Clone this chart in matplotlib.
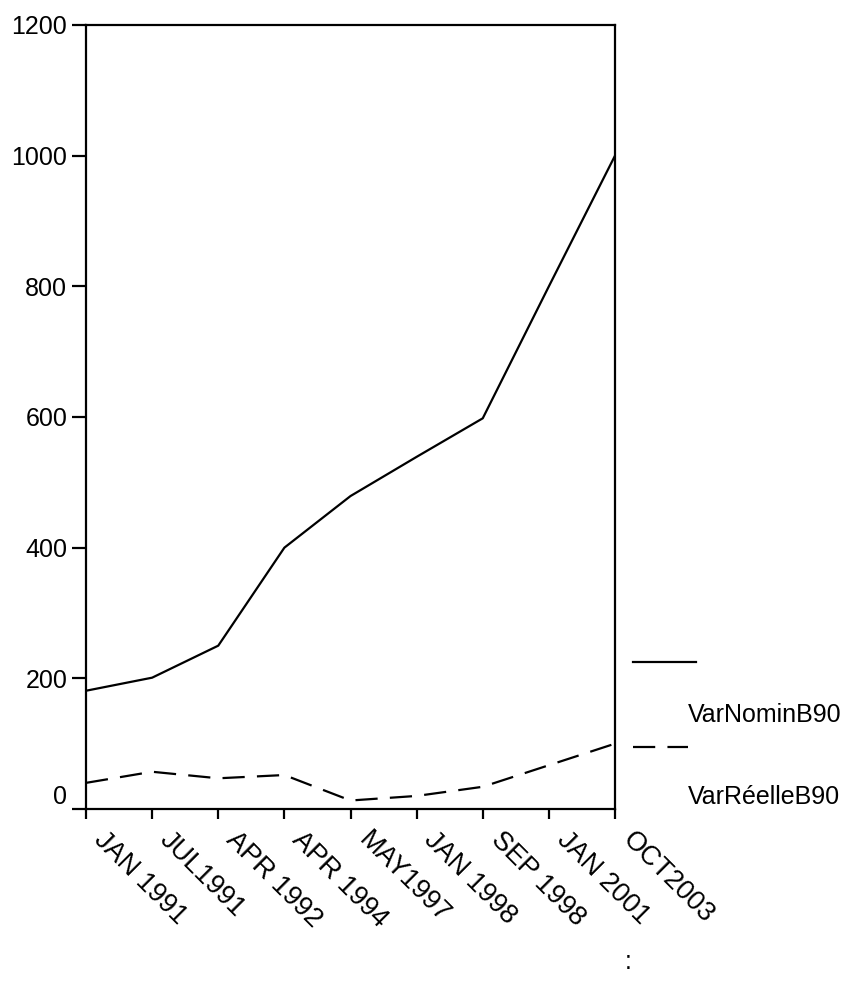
import matplotlib
matplotlib.use("Agg")
import matplotlib.pyplot as plt
from matplotlib.lines import Line2D
from matplotlib.transforms import ScaledTranslation

plt.rcParams['font.family'] = ['Liberation Sans', 'DejaVu Sans']

# Dates of observation and the two series (base 1990)
periods = ["JAN 1991", "JUL1991", "APR 1992", "APR 1994", "MAY1997",
           "JAN 1998", "SEP 1998", "JAN 2001", "OCT2003"]
var_nomin = [181, 201, 250, 400, 479, 539, 598, 800, 1000]
var_reelle = [40, 57, 47, 52, 13, 20, 34, 67, 100]
series_names = ["VarNominB90", "VarRéelleB90"]
y_ticks = [0, 200, 400, 600, 800, 1000, 1200]

W, H = 858, 996
fig = plt.figure(figsize=(W / 100, H / 100), dpi=100)
ax = fig.add_axes([86 / W, 1 - 809 / H, (615 - 86) / W, (809 - 25) / H])

x = list(range(len(periods)))
lw = 1.6
dash = (10, 5.5)
ax.plot(x, var_nomin, color="black", lw=lw)
ax.plot(x, var_reelle, color="black", lw=lw, dashes=dash)

ax.set_xlim(0, len(periods) - 1)
ax.set_ylim(0, 1200)
ax.set_yticks(y_ticks)
ax.set_yticklabels([str(v) for v in y_ticks])
ax.set_xticks(x)
ax.set_xticklabels(periods, rotation=-45, ha="left", va="top",
                   rotation_mode="anchor")

fs = 18
ax.tick_params(axis="both", direction="out", width=1.6,
               labelsize=fs, colors="black")
ax.tick_params(axis="y", length=10, pad=3.5)
ax.tick_params(axis="x", length=7, pad=6, labelsize=19.5)
for sp in ax.spines.values():
    sp.set_linewidth(1.6)
    sp.set_color("black")

# date labels start just right of their tick
shift = ScaledTranslation(21 / 100, 0, fig.dpi_scale_trans)
for lab in ax.get_xticklabels():
    lab.set_transform(lab.get_transform() + shift)

# the zero label sits just above the axis line
for lab in ax.get_yticklabels():
    if lab.get_text() == "0":
        lab.set_va("bottom")

# legend entries drawn beside the plot
def fx(px):
    return px / W

def fy(py):
    return 1 - py / H

fig.add_artist(Line2D([fx(633), fx(696)], [fy(662), fy(662)],
                      color="black", lw=lw, transform=fig.transFigure))
fig.text(fx(688), fy(715), series_names[0], fontsize=fs, va="center", ha="left")
fig.add_artist(Line2D([fx(633), fx(688)], [fy(747), fy(747)],
                      color="black", lw=lw, dashes=dash,
                      transform=fig.transFigure))
fig.text(fx(688), fy(797), series_names[1], fontsize=fs, va="center", ha="left")

fig.text(fx(628), fy(962), ":", fontsize=fs, va="center", ha="center")

fig.savefig("out.png", dpi=100, facecolor="white")
